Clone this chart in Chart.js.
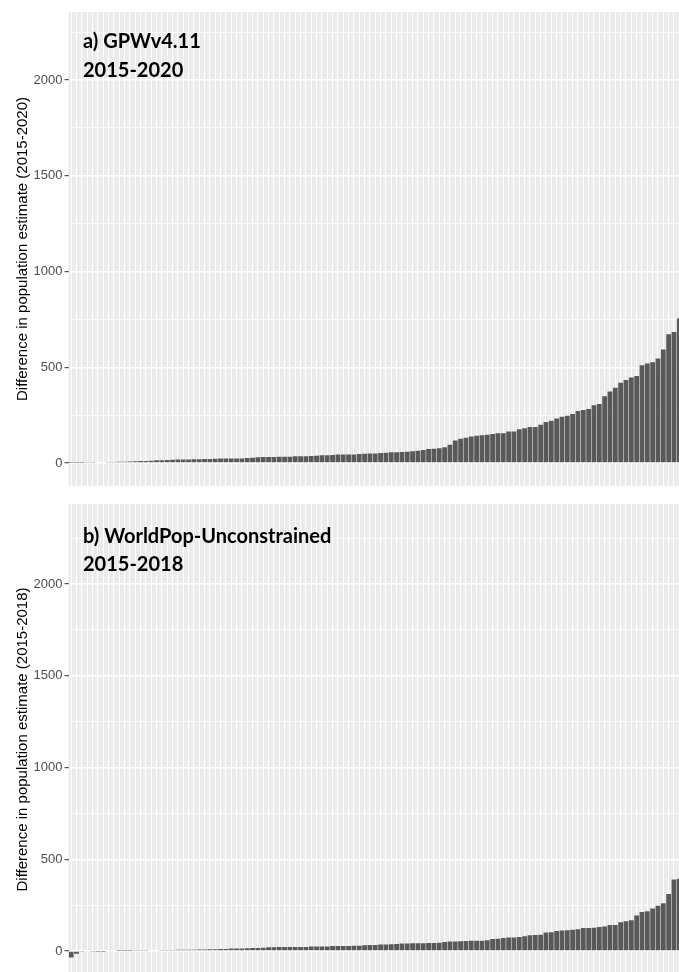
<!DOCTYPE html>
<html><head><meta charset="utf-8">
<script src="https://cdn.jsdelivr.net/npm/chart.js@4.4.1/dist/chart.umd.min.js"></script>
<style>
html,body{margin:0;padding:0;background:#fff;overflow:hidden;width:679px;height:972px;}
#wa{position:absolute;left:0;top:0;width:682px;height:490px;}
#wb{position:absolute;left:0;top:490px;width:682px;height:490px;}
</style></head><body>
<div id="wa"><canvas id="ca" width="682" height="490"></canvas></div>
<div id="wb"><canvas id="cb" width="682" height="490"></canvas></div>
<script>
// Categories: districts, sorted by difference (names not shown in the figure)
const districts = Array.from({length: 115}, (_, i) => 'District ' + (i + 1));

// a) GPWv4.11 2015-2020 differences
const gpwDiff = [
  1,2,2,3,3,4,4,5,5,6,7,8,9,10,11,12,14,15,16,17,18,19,19,20,20,21,21,22,
  23,23,23,24,24,26,28,30,31,31,31,33,33,33,35,35,35,37,38,40,40,42,44,45,45,45,47,48,50,50,
  52,54,56,56,57,59,61,64,68,73,75,
  77,82,96,117,127,132,139,143,145,148,151,155,155,165,165,176,181,188,188,200,
  214,221,233,242,247,256,271,277,282,301,308,348,374,393,419,433,447,454,
  510,520,526,546,593,672,684,755
];

// b) WorldPop-Unconstrained 2015-2018 differences
const worldpopDiff = [
  -36,-15,-5,-4,-3,-2,-1,0,0,1,1,1,2,2,3,4,4,5,5,5,6,6,7,7,8,8,9,10,
  11,11,13,13,13,15,16,16,18,20,20,22,22,22,22,22,22,24,24,25,25,27,27,27,27,29,29,31,33,33,
  35,35,36,38,40,40,42,42,42,44,44,45,49,51,51,
  53,54,56,56,56,58,65,67,71,74,74,76,80,85,87,89,100,102,109,111,113,116,118,125,125,
  127,131,134,142,142,156,162,167,193,213,216,231,247,260,311,389,394
];

// Y gridline values; only the major ones carry labels
const yTickValues = [0, 250, 500, 750, 1000, 1250, 1500, 1750, 2000, 2250];
const yMajorTicks = [0, 500, 1000, 1500, 2000];

const panelBg = {
  id: 'panelBg',
  beforeDraw(chart) {
    const {ctx, chartArea: a} = chart;
    ctx.save();
    ctx.fillStyle = '#EBEBEB';
    ctx.fillRect(a.left, a.top, a.right - a.left, a.bottom - a.top);
    ctx.restore();
  }
};

const panelLabel = {
  id: 'panelLabel',
  afterDraw(chart, args, opts) {
    const ctx = chart.ctx;
    ctx.save();
    ctx.font = 'bold 20px Lato, "Open Sans", sans-serif';
    ctx.fillStyle = '#000';
    ctx.textBaseline = 'alphabetic';
    ctx.textAlign = 'left';
    ctx.fillText(opts.line1, opts.x, opts.y1);
    ctx.fillText(opts.line2, opts.x, opts.y2);
    ctx.restore();
  }
};

function isMajor(v) { return yMajorTicks.indexOf(v) >= 0; }

function makePanel(id, values, yTitle, l1, l2, yMin, yMax, padTop, padBottom, ly1, ly2) {
  return new Chart(document.getElementById(id), {
    type: 'bar',
    data: {
      labels: districts,
      datasets: [{
        data: values,
        backgroundColor: '#595959',
        borderWidth: 0,
        barPercentage: 0.9,
        categoryPercentage: 1.0
      }]
    },
    options: {
      responsive: false,
      animation: false,
      events: [],
      layout: {padding: {top: padTop, bottom: padBottom, left: 0, right: 0}},
      plugins: {
        legend: {display: false},
        tooltip: {enabled: false},
        panelLabel: {line1: l1, line2: l2, x: 83, y1: ly1, y2: ly2}
      },
      scales: {
        x: {
          type: 'category',
          offset: true,
          ticks: {display: false},
          grid: {color: '#FFFFFF', lineWidth: 1, offset: false, drawTicks: false},
          border: {display: false},
          afterFit(s) { s.height = 0; s.paddingLeft = 0; s.paddingRight = 0; }
        },
        y: {
          position: 'left',
          min: yMin,
          max: yMax,
          afterBuildTicks(s) { s.ticks = yTickValues.map(v => ({value: v})); },
          ticks: {
            autoSkip: false,
            padding: 2,
            color: '#4D4D4D',
            font: {family: '"Liberation Sans", Arial, sans-serif', size: 13},
            callback: v => isMajor(v) ? String(v) : ''
          },
          grid: {
            color: '#FFFFFF',
            lineWidth: c => (c.tick && isMajor(c.tick.value)) ? 1.4 : 0.7,
            tickColor: c => (c.tick && isMajor(c.tick.value)) ? '#333333' : 'rgba(0,0,0,0)',
            tickLength: 4,
            tickWidth: 1
          },
          border: {display: false},
          title: {
            display: true,
            text: yTitle,
            color: '#000000',
            font: {family: '"Liberation Sans", Arial, sans-serif', size: 15},
            padding: {top: 14, bottom: 0}
          },
          afterFit(s) { s.width = 68.5; s.paddingTop = 0; s.paddingBottom = 0; }
        }
      }
    },
    plugins: [panelBg, panelLabel]
  });
}

makePanel('ca', gpwDiff, 'Difference in population estimate (2015-2020)',
  'a) GPWv4.11', '2015-2020', -120, 2355, 12, 4, 48, 77);
makePanel('cb', worldpopDiff, 'Difference in population estimate (2015-2018)',
  'b) WorldPop-Unconstrained', '2015-2018', -131, 2436, 14, 5, 53, 81);
</script>
</body></html>
